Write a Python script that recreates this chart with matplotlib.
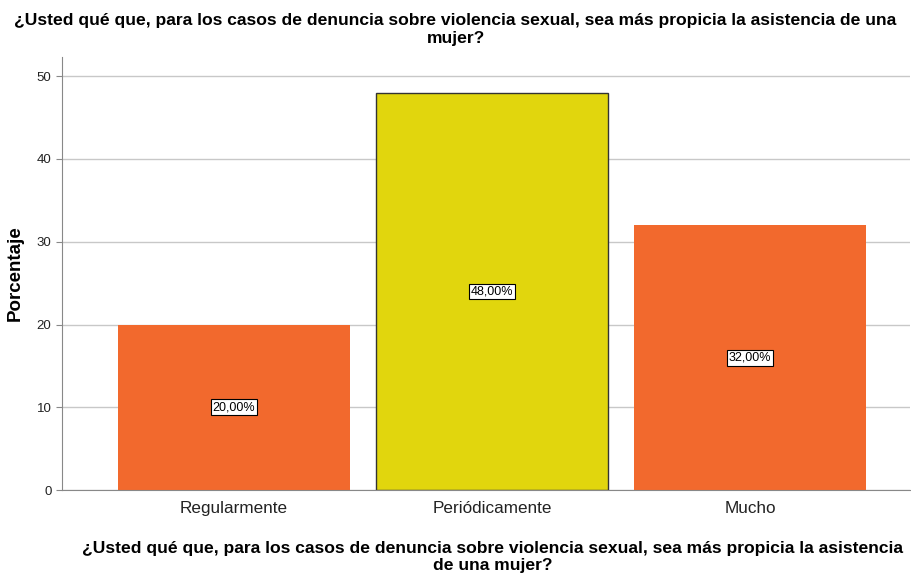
import matplotlib.pyplot as plt
import numpy as np

categories = ["Regularmente", "Periódicamente", "Mucho"]
percentages = [20.0, 48.0, 32.0]
bar_colors = ["#F2692D", "#E1D60D", "#F2692D"]
title = ("¿Usted qué que, para los casos de denuncia sobre violencia sexual, sea más propicia la asistencia de una\n"
         "mujer?")
xlabel = ("¿Usted qué que, para los casos de denuncia sobre violencia sexual, sea más propicia la asistencia\n"
          "de una mujer?")

plt.rcParams["font.family"] = ["Liberation Sans", "DejaVu Sans"]

fig = plt.figure(figsize=(9.11, 5.76), dpi=100)
ax = fig.add_axes([0.068, 0.149, 0.931, 0.752])

x = np.arange(len(categories))
ax.set_axisbelow(True)
ax.yaxis.grid(True, color="#c8c8c8", linewidth=1)
edges = ["none", "#333333", "none"]
for xi, v, c, e in zip(x, percentages, bar_colors, edges):
    ax.bar(xi, v, width=0.9, color=c, edgecolor=e, linewidth=1, zorder=2)
    ax.text(xi, v / 2, f"{v:.2f}%".replace(".", ","), ha="center", va="center",
            fontsize=9, zorder=3,
            bbox=dict(boxstyle="square,pad=0.15", facecolor="white", edgecolor="black", linewidth=0.8))

ax.set_xlim(-0.667, 2.62)
ax.set_ylim(0, 52.3)
ax.set_yticks([0, 10, 20, 30, 40, 50])
ax.set_xticks(x)
ax.set_xticklabels(categories, fontsize=12.3, color="#222222")
ax.tick_params(axis="y", labelsize=9.5, colors="#222222", length=4, color="#888888")
ax.tick_params(axis="x", length=0, pad=8)

for s in ["top", "right"]:
    ax.spines[s].set_visible(False)
ax.spines["left"].set_color("#888888")
ax.spines["bottom"].set_color("#888888")

ax.set_ylabel("Porcentaje", fontsize=13.5, fontweight="bold", labelpad=9)
fig.text(0.5, 0.978, title, ha="center", va="top", fontsize=12.6, fontweight="bold", linespacing=1.3)
fig.text(0.541, 0.06, xlabel, ha="center", va="top", fontsize=12.6, fontweight="bold", linespacing=1.1)

fig.savefig("out.png", dpi=100)
